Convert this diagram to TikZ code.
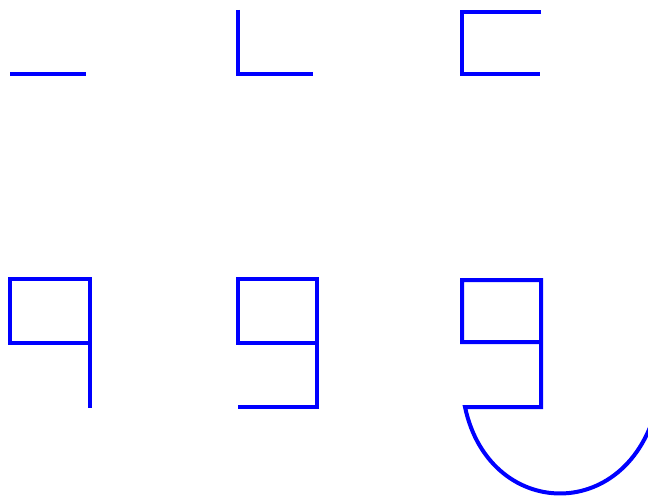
\documentclass[tikz,border=0pt]{standalone}
\begin{document}
\begin{tikzpicture}[x=1pt,y=-1pt,
  stroke/.style={draw={rgb,255:red,0;green,0;blue,255},line width=4pt,line join=miter}]
\useasboundingbox (0,0) rectangle (648,497);
\clip (0,0) rectangle (648,497);
% panel 1
\draw[stroke] (10,74) -- (86,74);
% panel 2
\draw[stroke] (238,10) -- (238,74) -- (313,74);
% panel 3
\draw[stroke] (541,12) -- (462,12) -- (462,74) -- (540,74);
% panel 4
\draw[stroke] (90,343) -- (10,343) -- (10,279) -- (90,279) -- (90,408);
% panel 5
\draw[stroke] (317,343) -- (238,343) -- (238,279) -- (317,279) -- (317,407) -- (238,407);
% panel 6
\draw[stroke] (541,342) -- (462,342) -- (462,280) -- (541,280) -- (541,407) -- (465,407)
  .. controls (490,525) and (640,525) .. (660,390);
\end{tikzpicture}
\end{document}
